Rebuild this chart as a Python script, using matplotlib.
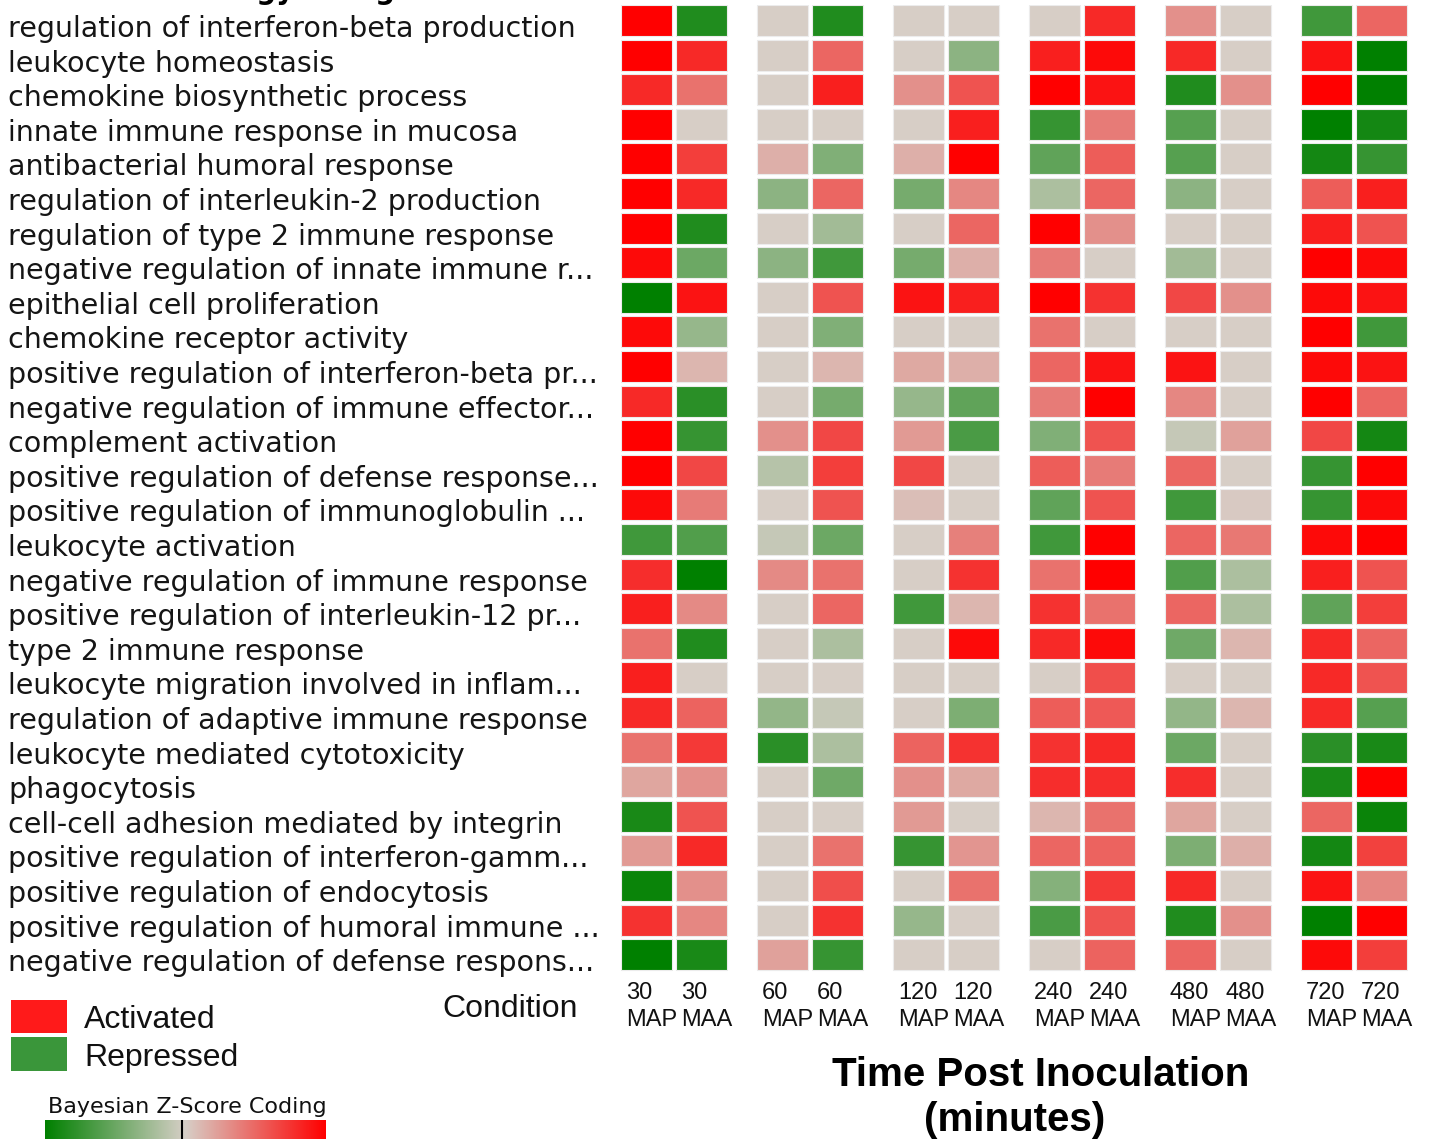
import matplotlib
matplotlib.use('Agg')
import matplotlib.pyplot as plt
import numpy as np
from matplotlib.colors import LinearSegmentedColormap
from matplotlib.patches import Rectangle
from matplotlib import transforms

terms = [
    'regulation of interferon-beta production',
    'leukocyte homeostasis',
    'chemokine biosynthetic process',
    'innate immune response in mucosa',
    'antibacterial humoral response',
    'regulation of interleukin-2 production',
    'regulation of type 2 immune response',
    'negative regulation of innate immune r...',
    'epithelial cell proliferation',
    'chemokine receptor activity',
    'positive regulation of interferon-beta pr...',
    'negative regulation of immune effector...',
    'complement activation',
    'positive regulation of defense response...',
    'positive regulation of immunoglobulin ...',
    'leukocyte activation',
    'negative regulation of immune response',
    'positive regulation of interleukin-12 pr...',
    'type 2 immune response',
    'leukocyte migration involved in inflam...',
    'regulation of adaptive immune response',
    'leukocyte mediated cytotoxicity',
    'phagocytosis',
    'cell-cell adhesion mediated by integrin',
    'positive regulation of interferon-gamm...',
    'positive regulation of endocytosis',
    'positive regulation of humoral immune ...',
    'negative regulation of defense respons...',
]

times = ['30', '60', '120', '240', '480', '720']
strains = ['MAP', 'MAA']

# bayesian z-scores per condition, one value per term (top to bottom)
map_30 = [1.0, 1.0, 0.8, 1.0, 1.0, 1.0, 1.0, 0.95, -1.0, 0.95, 1.0, 0.8, 1.0, 1.0,
          0.95, -0.7, 0.78, 0.85, 0.45, 0.85, 0.8, 0.45, 0.2, -0.88, 0.25, -0.95, 0.75, -1.0]
maa_30 = [-0.85, 0.8, 0.45, 0, 0.7, 0.8, -0.85, -0.5, 0.9, -0.3, 0.12, -0.8, -0.75, 0.65,
          0.4, -0.62, -1.0, 0.33, -0.85, 0, 0.52, 0.72, 0.3, 0.6, 0.8, 0.3, 0.35, -0.88]
map_60 = [0, 0, 0, 0, 0.15, -0.35, 0, -0.35, 0, 0, 0, 0, 0.3, -0.15,
          0, -0.08, 0.33, 0, 0, 0, -0.32, -0.8, 0, 0, 0, 0, 0, 0.22]
maa_60 = [-0.85, 0.5, 0.85, 0, -0.4, 0.5, -0.25, -0.7, 0.6, -0.4, 0.12, -0.45, 0.65, 0.7,
          0.6, -0.5, 0.45, 0.5, -0.2, 0, -0.08, -0.2, -0.48, 0, 0.45, 0.62, 0.75, -0.75]
map_120 = [0, 0, 0.3, 0, 0.15, -0.45, 0, -0.45, 0.9, 0, 0.18, -0.3, 0.25, 0.65,
           0.08, 0, 0, -0.7, 0, 0, 0, 0.52, 0.3, 0.25, -0.75, 0, -0.3, 0]
maa_120 = [0, -0.35, 0.6, 0.85, 1.0, 0.35, 0.5, 0.15, 0.85, 0, 0.15, -0.55, -0.65, 0,
           0, 0.38, 0.75, 0.12, 0.95, 0, -0.42, 0.75, 0.18, 0, 0.28, 0.45, 0, 0]
map_240 = [0, 0.85, 1.0, -0.75, -0.55, -0.2, 1.0, 0.4, 1.0, 0.45, 0.5, 0.4, -0.4, 0.55,
           -0.55, -0.7, 0.45, 0.75, 0.8, 0, 0.55, 0.75, 0.78, 0.12, 0.5, -0.38, -0.65, 0]
maa_240 = [0.8, 0.95, 0.9, 0.4, 0.55, 0.5, 0.3, 0, 0.75, 0, 0.9, 1.0, 0.6, 0.4,
           0.6, 1.0, 1.0, 0.45, 0.95, 0.62, 0.57, 0.8, 0.78, 0.45, 0.52, 0.72, 0.6, 0.52]
map_480 = [0.3, 0.8, -0.85, -0.6, -0.6, -0.35, 0, -0.25, 0.65, 0, 0.9, 0.35, -0.08, 0.5,
           -0.7, 0.5, -0.62, 0.5, -0.48, 0, -0.32, -0.5, 0.78, 0.2, -0.42, 0.8, -0.85, 0.5]
maa_480 = [0, 0, 0.3, 0, 0, 0, 0, 0, 0.3, 0, 0, 0, 0.22, 0,
           0.03, 0.42, -0.2, -0.2, 0.12, 0, 0.12, 0, 0, 0, 0.15, 0, 0.3, 0]
map_720 = [-0.7, 0.9, 1.0, -1.0, -0.9, 0.55, 0.85, 1.0, 0.95, 1.0, 0.95, 1.0, 0.65, -0.75,
           -0.75, 0.95, 0.85, -0.55, 0.8, 0.8, 0.8, -0.8, -0.88, 0.5, -0.9, 0.9, -1.0, 0.95]
maa_720 = [0.5, -1.0, -1.0, -0.9, -0.75, 0.85, 0.6, 0.95, 0.9, -0.7, 0.9, 0.5, -0.9, 1.0,
           0.95, 1.0, 0.6, 0.7, 0.5, 0.6, -0.6, -0.88, 1.0, -0.95, 0.68, 0.35, 1.0, 0.7]

columns = [map_30, maa_30, map_60, maa_60, map_120, maa_120,
           map_240, maa_240, map_480, maa_480, map_720, maa_720]
z = np.array(columns).T

cmap = LinearSegmentedColormap.from_list('zscore', ['#008000', '#d7cfc7', '#ff0000'])

W, H = 1430, 1139
fig = plt.figure(figsize=(W / 100, H / 100), dpi=100)

def fx(px):
    return px / W

def fy(py):
    return 1 - py / H

arial = ['Liberation Sans', 'DejaVu Sans']

# heatmap axes, units: 1 = cell pitch inside a pair / one row
row_px = 34.6
ax = fig.add_axes([fx(621), fy(5 + 28 * row_px), 788 / W, 28 * row_px / H])
pair_pitch = 136 / 55
cell_w = 51 / 55
cell_h = 31 / row_px
nrows = len(terms)
for i in range(nrows):
    for j in range(z.shape[1]):
        g, k = divmod(j, 2)
        x0 = g * pair_pitch + k
        ax.add_patch(Rectangle((x0, i), cell_w, cell_h,
                               facecolor=cmap((z[i, j] + 1) / 2),
                               edgecolor='#ececec', lw=0.8))
ax.set_xlim(0, 788 / 55)
ax.set_ylim(nrows, 0)
ax.axis('off')

# row labels
row_tr = transforms.blended_transform_factory(fig.transFigure, ax.transData)
for i, t in enumerate(terms):
    ax.text(fx(8), i + cell_h + 0.03, t, transform=row_tr, ha='left', va='baseline',
            fontsize=20.5, color='#151515', family='DejaVu Sans')

# condition labels
col_tr = transforms.blended_transform_factory(ax.transData, fig.transFigure)
for j in range(z.shape[1]):
    g, k = divmod(j, 2)
    x0 = g * pair_pitch + k
    ax.text(x0 + 5 / 55, fy(982), times[g] + '\n' + strains[k], transform=col_tr,
            ha='left', va='top', fontsize=17, linespacing=1.3,
            family=arial, color='#111111')

fig.text(fx(1041), fy(1086), 'Time Post Inoculation', ha='center', va='baseline',
         fontsize=29, fontweight='bold', family=arial)
fig.text(fx(1015), fy(1131), '(minutes)', ha='center', va='baseline',
         fontsize=29, fontweight='bold', family=arial)
fig.text(fx(442), fy(1017), 'Condition', ha='left', va='baseline',
         fontsize=23, family=arial, color='#111111')

# partially cropped heading at the very top
fig.text(fx(62), fy(-1), 'Gene Ontology Categories', ha='left', va='baseline',
         fontsize=20, fontweight='bold', family='DejaVu Sans')

# legend squares
fig.add_artist(Rectangle((fx(11), fy(1033)), 56 / W, 33 / H, transform=fig.transFigure,
                         facecolor='#ff1a1a', edgecolor='none'))
fig.add_artist(Rectangle((fx(11), fy(1071)), 56 / W, 34 / H, transform=fig.transFigure,
                         facecolor='#3a963a', edgecolor='none'))
fig.text(fx(84), fy(1028), 'Activated', ha='left', va='baseline', fontsize=23,
         family=arial, color='#111111')
fig.text(fx(84), fy(1066), 'Repressed', ha='left', va='baseline', fontsize=23,
         family=arial, color='#111111')

# colour scale
fig.text(fx(48), fy(1113), 'Bayesian Z-Score Coding', ha='left', va='baseline',
         fontsize=16, family='DejaVu Sans', color='#111111')
cax = fig.add_axes([fx(45), fy(1160), 280 / W, 40 / H])
cax.imshow(np.linspace(-1, 1, 256)[None, :], cmap=cmap, aspect='auto',
           extent=(-1, 1, 0, 1))
cax.axvline(-0.02, color='black', lw=1.5)
cax.axis('off')

fig.savefig('out.png', dpi=100, facecolor='white')
